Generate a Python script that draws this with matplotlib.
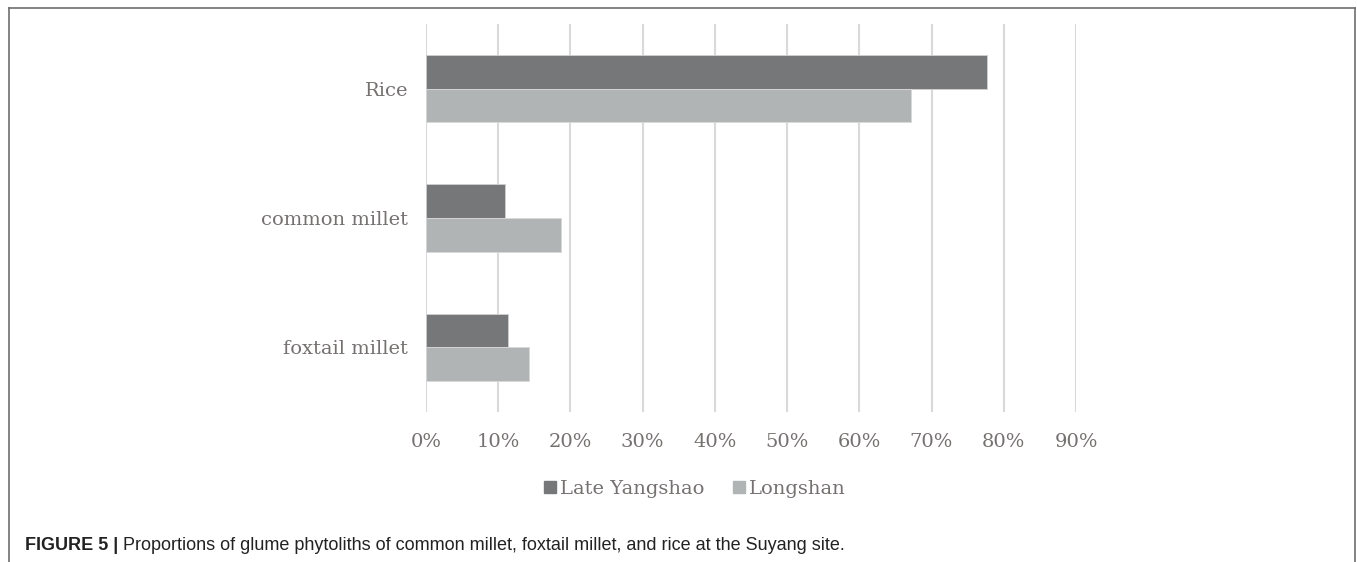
import numpy as np
import matplotlib
matplotlib.use('Agg')
import matplotlib.pyplot as plt
from matplotlib.lines import Line2D
from matplotlib.ticker import FuncFormatter

# Glume phytolith proportions per crop
crops = ['foxtail millet', 'common millet', 'Rice']
late_yangshao = [0.114, 0.109, 0.777]
longshan = [0.142, 0.187, 0.672]
series_names = ['Late Yangshao', 'Longshan']

DARK = '#767779'
LIGHT = '#b1b4b4'
TEXT = '#767171'
GRID = '#d9d9d9'

W, H = 1357, 562
fig = plt.figure(figsize=(W / 100, H / 100), dpi=100)
ax = fig.add_axes([426 / W, 1 - 412 / H, 650 / W, 388 / H])

y = np.arange(len(crops))
bh = 0.26
ax.barh(y + bh / 2, late_yangshao, height=bh, color=DARK, edgecolor='#d0d0d0',
        linewidth=0.6, label=series_names[0], zorder=3)
ax.barh(y - bh / 2, longshan, height=bh, color=LIGHT, edgecolor='#d8d8d8',
        linewidth=0.6, label=series_names[1], zorder=3)

ax.set_xlim(0, 0.9)
ax.set_ylim(-0.5, len(crops) - 0.5)
ax.set_xticks(np.arange(0, 0.91, 0.1))
ax.xaxis.set_major_formatter(FuncFormatter(lambda v, _: f'{v * 100:.0f}%'))
ax.set_yticks(y)
ax.set_yticklabels(crops)
ax.grid(axis='x', color=GRID, linewidth=1.5, zorder=0)
for s in ax.spines.values():
    s.set_visible(False)
ax.tick_params(length=0, colors=TEXT, labelsize=14)
ax.tick_params(axis='x', pad=15)
ax.tick_params(axis='y', pad=13)
for lbl in ax.get_xticklabels() + ax.get_yticklabels():
    lbl.set_fontfamily('DejaVu Serif')

handles = [Line2D([], [], marker='s', linestyle='', markersize=9, color=c)
           for c in (DARK, LIGHT)]
leg = fig.legend(handles, series_names, loc='center', bbox_to_anchor=(693 / W, 1 - 489 / H),
                 ncol=2, frameon=False, handletextpad=0.0, columnspacing=1.3,
                 handlelength=1.0, prop={'family': 'DejaVu Serif', 'size': 14})
for t in leg.get_texts():
    t.set_color(TEXT)

# Outer frame: top, left and right edges
for xs, ys in [((9, 1355), (8, 8)), ((9, 9), (8, H)), ((1355, 1355), (8, H))]:
    fig.add_artist(Line2D([x / W for x in xs], [1 - v / H for v in ys],
                          transform=fig.transFigure, color='#6e6e6e', linewidth=1.2))

# Caption: bold label followed by the regular text
cap_y = 1 - 545 / H
head = fig.text(25 / W, cap_y, 'FIGURE 5 |', fontsize=13, fontweight='bold',
                family='Liberation Sans', va='center', ha='left', color='#222222')
renderer = fig.canvas.get_renderer()
x1 = head.get_window_extent(renderer).x1
fig.text((x1 + 5) / W, cap_y,
         'Proportions of glume phytoliths of common millet, foxtail millet, and rice at the Suyang site.',
         fontsize=13, family='Liberation Sans', va='center', ha='left', color='#222222')

fig.savefig('out.png', dpi=100)
plt.close(fig)
